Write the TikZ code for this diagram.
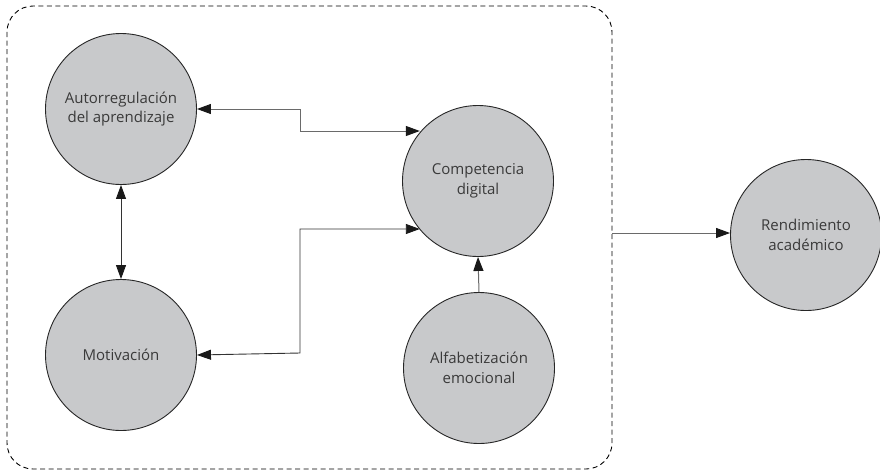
\documentclass[tikz,border=0pt]{standalone}
\usepackage{fontspec}
\setmainfont{Open Sans}
\usetikzlibrary{arrows.meta}
\definecolor{cfill}{HTML}{C8C9CB}
\definecolor{ctext}{HTML}{3A3A3A}
\definecolor{cline}{HTML}{6A6A6A}
\begin{document}
\begin{tikzpicture}[x=1pt,y=-1pt,
  tipa/.tip={Triangle[length=14pt,width=10pt,color=black!90]},
  circ/.style={circle,draw=black!85,line width=0.9pt,fill=cfill,minimum size=151pt,inner sep=0pt,align=center,text=ctext,font=\fontsize{15}{19.5}\selectfont},
  conn/.style={draw=cline,line width=1pt,-tipa},
  conn2/.style={draw=cline,line width=1pt,tipa-tipa},
  conn3/.style={draw=black!80,line width=0.9pt,tipa-tipa}]
\useasboundingbox (0,0) rectangle (880,472);
\draw[dashed,line width=0.9pt,dash pattern=on 5pt off 3.5pt,rounded corners=26pt] (7,6) rectangle (612,469);
\node[circ] (auto) at (121,109) {Autorregulación\\del aprendizaje};
\node[circ] (moti) at (121,355) {Motivación};
\node[circ] (comp) at (478,181) {Competencia\\digital};
\node[circ] (alfa) at (479,368) {Alfabetización\\emocional};
\node[circ] (rend) at (806,235) {Rendimiento\\académico};
\coordinate (boxr) at (612,233);
\draw[conn3] (auto.south) -- (moti.north);
\draw[conn2] (auto.east) -- (300,109) -- (300,131) -- (comp.140 |- 300,131);
\draw[conn3] (moti.east) -- (300,353) -- (300,229) -- (comp.220 |- 300,229);
\draw[conn] (alfa.north) -- (comp.south);
\draw[conn] (boxr) -- (rend.west |- boxr);
\end{tikzpicture}
\end{document}
